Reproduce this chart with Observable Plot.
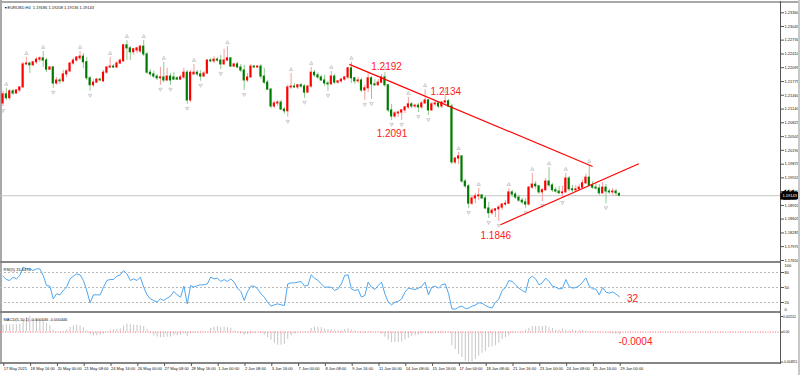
<!DOCTYPE html>
<html><head><meta charset="utf-8">
<script src="https://cdn.jsdelivr.net/npm/d3@7"></script>
<script src="https://cdn.jsdelivr.net/npm/@observablehq/plot@0.6"></script>
<style>
html,body{margin:0;padding:0;background:#fff;}
#chart{position:relative;width:800px;height:375px;overflow:hidden;background:#fff;font-family:"Liberation Sans",Arial,sans-serif;}
#chart svg{position:absolute;left:0;top:0;}
.ln{position:absolute;}
</style></head><body>
<div id="chart">
<div class="ln" style="left:0;top:1px;width:798px;height:2px;background:#a8a8a8"></div>
<div class="ln" style="left:0;top:0;width:2px;height:364px;background:#a8a8a8"></div>
<div class="ln" style="left:0;top:261px;width:781px;height:2px;background:#858585"></div>
<div class="ln" style="left:0;top:311px;width:781px;height:2px;background:#858585"></div>
<div class="ln" style="left:0;top:362px;width:781px;height:2px;background:#858585"></div>
<div class="ln" style="left:780px;top:1px;width:1px;height:363px;background:#555"></div>
</div>
<script>
// ---- EURUSD H4 candles (bar index 0 = 17 May 2021 08:00) ----
const open = [1.2127,1.2148,1.2139,1.2155,1.2150,1.2157,1.2164,1.2217,1.2219,1.2215,
1.2222,1.2228,1.2231,1.2226,1.2205,1.2210,1.2173,1.2180,1.2178,1.2194,
1.2201,1.2219,1.2226,1.2231,1.2235,1.2222,1.2185,1.2169,1.2175,1.2182,
1.2178,1.2198,1.2210,1.2212,1.2210,1.2219,1.2224,1.2261,1.2254,1.2245,
1.2249,1.2247,1.2258,1.2240,1.2198,1.2194,1.2189,1.2185,1.2187,1.2180,
1.2189,1.2187,1.2185,1.2182,1.2187,1.2198,1.2134,1.2194,1.2198,1.2194,
1.2189,1.2196,1.2226,1.2224,1.2228,1.2226,1.2217,1.2226,1.2231,1.2212,
1.2217,1.2210,1.2203,1.2180,1.2187,1.2212,1.2210,1.2212,1.2189,1.2175,
1.2159,1.2120,1.2127,1.2129,1.2113,1.2109,1.2164,1.2166,1.2164,1.2169,
1.2166,1.2152,1.2166,1.2198,1.2192,1.2187,1.2180,1.2173,1.2171,1.2189,
1.2175,1.2178,1.2182,1.2187,1.2208,1.2185,1.2178,1.2180,1.2157,1.2162,
1.2185,1.2171,1.2169,1.2175,1.2187,1.2169,1.2111,1.2097,1.2104,1.2106,
1.2111,1.2118,1.2125,1.2120,1.2122,1.2118,1.2127,1.2134,1.2111,1.2125,
1.2127,1.2120,1.2129,1.2132,1.2120,1.1991,1.2000,1.2005,1.1947,1.1936,
1.1896,1.1908,1.1913,1.1915,1.1908,1.1885,1.1874,1.1880,1.1883,1.1887,
1.1894,1.1896,1.1922,1.1917,1.1910,1.1903,1.1899,1.1894,1.1933,1.1940,
1.1936,1.1922,1.1927,1.1947,1.1938,1.1927,1.1924,1.1920,1.1922,1.1954,
1.1929,1.1927,1.1929,1.1933,1.1943,1.1956,1.1938,1.1933,1.1931,1.1920,
1.1933,1.1924,1.1922,1.1924,1.19186];
const high = [1.2155,1.2162,1.2159,1.2159,1.2159,1.2166,1.2222,1.2233,1.2222,1.2224,
1.2233,1.2235,1.2247,1.2231,1.2212,1.2212,1.2187,1.2185,1.2203,1.2205,
1.2222,1.2231,1.2235,1.2247,1.2242,1.2233,1.2189,1.2182,1.2185,1.2185,
1.2203,1.2212,1.2233,1.2217,1.2224,1.2228,1.2263,1.2272,1.2258,1.2254,
1.2256,1.2261,1.2272,1.2245,1.2205,1.2201,1.2194,1.2210,1.2222,1.2208,
1.2196,1.2198,1.2189,1.2192,1.2208,1.2203,1.2203,1.2217,1.2203,1.2203,
1.2201,1.2228,1.2231,1.2235,1.2233,1.2238,1.2252,1.2258,1.2233,1.2219,
1.2222,1.2217,1.2215,1.2196,1.2217,1.2215,1.2215,1.2217,1.2208,1.2180,
1.2162,1.2132,1.2134,1.2134,1.2118,1.2169,1.2196,1.2173,1.2171,1.2173,
1.2171,1.2169,1.2210,1.2203,1.2198,1.2192,1.2192,1.2178,1.2201,1.2194,
1.2180,1.2185,1.2189,1.2210,1.2222,1.2187,1.2187,1.2185,1.2169,1.2196,
1.2189,1.2182,1.2182,1.2194,1.2198,1.2171,1.2125,1.2109,1.2109,1.2113,
1.2120,1.2141,1.2129,1.2125,1.2127,1.2132,1.2159,1.2136,1.2129,1.2132,
1.2129,1.2132,1.2145,1.2136,1.2125,1.2003,1.2014,1.2007,1.1952,1.1940,
1.1913,1.1920,1.1931,1.1917,1.1913,1.1899,1.1885,1.1885,1.1892,1.1896,
1.1903,1.1931,1.1927,1.1922,1.1915,1.1908,1.1908,1.1936,1.1966,1.1947,
1.1938,1.1931,1.1954,1.1979,1.1943,1.1933,1.1936,1.1936,1.1966,1.1959,
1.1938,1.1938,1.1940,1.1950,1.1963,1.1984,1.1947,1.1943,1.1940,1.1945,
1.1940,1.1929,1.1931,1.1929,1.19208];
const low = [1.2120,1.2134,1.2134,1.2145,1.2148,1.2152,1.2162,1.2215,1.2196,1.2212,
1.2217,1.2222,1.2210,1.2198,1.2203,1.2162,1.2169,1.2171,1.2175,1.2187,
1.2198,1.2215,1.2222,1.2226,1.2208,1.2180,1.2155,1.2164,1.2173,1.2178,
1.2175,1.2194,1.2208,1.2208,1.2208,1.2217,1.2222,1.2226,1.2226,1.2238,
1.2242,1.2242,1.2235,1.2194,1.2189,1.2185,1.2180,1.2169,1.2175,1.2178,
1.2169,1.2180,1.2180,1.2180,1.2182,1.2125,1.2129,1.2192,1.2189,1.2178,
1.2187,1.2194,1.2222,1.2219,1.2222,1.2205,1.2215,1.2224,1.2210,1.2210,
1.2208,1.2198,1.2157,1.2175,1.2185,1.2208,1.2208,1.2182,1.2171,1.2157,
1.2115,1.2115,1.2120,1.2111,1.2102,1.2095,1.2159,1.2162,1.2159,1.2162,
1.2139,1.2150,1.2162,1.2187,1.2182,1.2178,1.2166,1.2155,1.2169,1.2171,
1.2171,1.2173,1.2178,1.2182,1.2173,1.2171,1.2173,1.2152,1.2134,1.2152,
1.2136,1.2166,1.2166,1.2173,1.2164,1.2106,1.2088,1.2092,1.2095,1.2088,
1.2104,1.2113,1.2115,1.2115,1.2106,1.2113,1.2125,1.2099,1.2109,1.2120,
1.2115,1.2115,1.2125,1.2118,1.1986,1.1986,1.1986,1.1943,1.1931,1.1885,
1.1892,1.1896,1.1903,1.1906,1.1883,1.1862,1.1869,1.1864,1.1855,1.1880,
1.1890,1.1894,1.1910,1.1906,1.1899,1.1894,1.1885,1.1890,1.1929,1.1929,
1.1917,1.1901,1.1924,1.1933,1.1922,1.1920,1.1917,1.1908,1.1920,1.1924,
1.1922,1.1924,1.1927,1.1931,1.1940,1.1936,1.1929,1.1927,1.1915,1.1917,
1.1896,1.1917,1.1915,1.1913,1.19136];
const close = [1.2148,1.2139,1.2155,1.2150,1.2157,1.2164,1.2217,1.2219,1.2215,1.2222,
1.2228,1.2231,1.2226,1.2205,1.2210,1.2173,1.2180,1.2178,1.2194,1.2201,
1.2219,1.2226,1.2233,1.2235,1.2222,1.2185,1.2169,1.2175,1.2182,1.2180,
1.2198,1.2210,1.2212,1.2210,1.2219,1.2226,1.2261,1.2254,1.2245,1.2252,
1.2254,1.2258,1.2240,1.2198,1.2194,1.2189,1.2185,1.2187,1.2180,1.2189,
1.2180,1.2182,1.2182,1.2187,1.2198,1.2134,1.2198,1.2198,1.2194,1.2189,
1.2196,1.2226,1.2224,1.2228,1.2226,1.2217,1.2226,1.2231,1.2212,1.2217,
1.2210,1.2203,1.2180,1.2187,1.2212,1.2210,1.2212,1.2189,1.2175,1.2159,
1.2120,1.2127,1.2129,1.2113,1.2109,1.2164,1.2166,1.2164,1.2169,1.2166,
1.2152,1.2166,1.2198,1.2192,1.2187,1.2180,1.2173,1.2171,1.2189,1.2175,
1.2178,1.2182,1.2187,1.2208,1.2185,1.2178,1.2180,1.2157,1.2162,1.2185,
1.2171,1.2169,1.2175,1.2187,1.2169,1.2111,1.2097,1.2104,1.2106,1.2111,
1.2118,1.2125,1.2120,1.2122,1.2118,1.2127,1.2134,1.2111,1.2125,1.2127,
1.2120,1.2129,1.2132,1.2120,1.1991,1.2000,1.2005,1.1947,1.1936,1.1896,
1.1908,1.1913,1.1915,1.1908,1.1885,1.1874,1.1880,1.1883,1.1887,1.1894,
1.1896,1.1922,1.1917,1.1910,1.1903,1.1899,1.1894,1.1933,1.1940,1.1936,
1.1922,1.1927,1.1947,1.1938,1.1927,1.1924,1.1920,1.1922,1.1954,1.1929,
1.1927,1.1929,1.1933,1.1943,1.1956,1.1938,1.1933,1.1931,1.1920,1.1933,
1.1924,1.1922,1.1924,1.1920,1.19143];

// ---- RSI(5) ----
const rsi = [72.7,66,64,70.7,67.3,74,90.7,87.3,87.3,84,
87.3,87.3,74,54,52.7,27.3,37.3,35.3,44,50.7,
67.3,72.7,77.3,75.3,64,44,19.3,35.3,35.3,35.3,
50.7,64,66,66,72.7,75.3,84,77.3,64,67.3,
64,70.7,50.7,35.3,27.3,24,20.7,27.3,24,28.7,
32.7,42,35.3,30.7,52.7,17.3,54,50.7,54,55.3,
55.3,57.3,70.7,67.3,68.7,62,66,62,67.3,60.7,
48.7,42,24,42,52.7,52.7,47.3,37.3,30.7,20.7,
12.7,15.3,17.3,15.3,14,57.3,59.3,59.3,60.7,62,
52.7,54,75.3,68.7,64,57.3,50.7,50.7,50.7,44,
47.3,57.3,74,75.3,47.3,44,46,30.7,34,60.7,
50.7,46,54,60.7,37.3,20.7,15.3,20.7,22,27.3,
40.7,48.7,47.3,46,48.7,52.7,60.7,35.3,50.7,52.7,
48.7,55.3,57.3,38,7.3,6.7,10.7,12.7,8,8.7,
12.7,14.7,19.3,18.7,14,10.7,9.3,20.7,26.7,44,
50,64,62,55.3,48.7,44,40,67.3,72.7,67.3,
55.3,59.3,68.7,62,52.7,50.7,47.3,48,66,52,
48.7,50,53.3,60.7,69.3,52.7,47.3,46.7,35.3,50,
40.7,38.7,41.3,36.7,31.6];

// ---- MACD(5,10,1) histogram ----
const macd = [0.0011,0.0012,0.0012,0.0012,0.0012,0.0013,0.0019,0.0023,0.002511,0.0020,
0.0021,0.0020,0.0017,0.0014,0.0010,0.0003,0.0001,-0.0001,0.0001,0.0003,
0.0008,0.0010,0.0011,0.0010,0.0007,0.0002,-0.0004,-0.0006,-0.0006,-0.0005,
-0.0003,0.0001,0.0003,0.0004,0.0004,0.0005,0.0010,0.0013,0.0012,0.0011,
0.0011,0.0010,0.0009,0.0004,-0.0002,-0.0006,-0.0008,-0.0009,-0.0009,-0.0008,
-0.0008,-0.0006,-0.0006,-0.0005,-0.0003,-0.0007,-0.0003,-0.0002,-0.0001,-0.0001,
-0.0001,0.0001,0.0006,0.0008,0.0009,0.0008,0.0008,0.0007,0.0006,0.0002,
-0.0001,-0.0003,-0.0005,-0.0004,-0.0003,-0.0002,-0.0001,-0.0002,-0.0005,-0.0009,
-0.0013,-0.0018,-0.0021,-0.0021,-0.0020,-0.0012,-0.0006,-0.0003,-0.0001,0.0000,
-0.0001,0.0001,0.0006,0.0008,0.0008,0.0007,0.0005,0.0004,0.0004,0.0003,
0.0002,0.0002,0.0004,0.0005,0.0003,0.0002,0.0001,-0.0001,-0.0002,0.0001,
0.0001,0.0000,0.0001,-0.0003,-0.0008,-0.0013,-0.0017,-0.0017,-0.0017,-0.0016,
-0.0013,-0.0010,-0.0007,-0.0006,-0.0005,-0.0003,-0.0002,-0.0003,-0.0003,-0.0002,
-0.0002,-0.0002,-0.0002,-0.0001,-0.0022,-0.0028,-0.0036,-0.0041,-0.0047,-0.004815,
-0.0048,-0.0044,-0.0039,-0.0034,-0.0031,-0.0025,-0.0024,-0.0022,-0.0018,-0.0012,
-0.0009,-0.0006,-0.0002,-0.0001,0.0000,0.0001,0.0003,0.0006,0.0009,0.0009,
0.0009,0.0009,0.0010,0.0007,0.0006,0.0003,0.0003,0.0005,0.0003,0.0002,
0.0003,0.0002,0.0002,0.0003,0.0002,0.0001,0.0001,0.0000,-0.0001,0.0000,
-0.0001,-0.0002,-0.0003,-0.00035,-0.000446];

// ---- fractal bars ----
const fractalUp = [1,7,12,23,32,37,42,48,57,67,86,92,98,104,114,121,126,132,136,142,151,158,163,168,175];
const fractalDown = [0,15,26,47,50,55,59,65,72,85,90,97,108,110,116,119,124,127,139,145,148,156,161,167,180];

// ---- trend lines (bar, price) ----
const trendX1 = [103.4, 148.5];
const trendY1 = [1.2217, 1.18474];
const trendX2 = [176.0, 189.8];
const trendY2 = [1.19818, 1.19880];

// ---- annotations ----
const noteText = ["1.2192","1.2134","1.2091","1.1846"];
const noteBar = [114.5, 132.2, 116.1, 147.1];
const notePrice = [1.2211, 1.2154, 1.2058, 1.1823];
const rsiNoteText = ["32"], rsiNoteBar = [187.9], rsiNoteValue = [28];
const macdNoteText = ["-0.0004"], macdNoteBar = [188.8], macdNoteValue = [-0.0015];

// ---- axes ----
const priceTicks = [1.23360,1.23045,1.22730,1.22410,1.22095,1.21775,1.21460,1.21140,1.20825,1.20505,1.20190,1.19870,1.19555,1.19240,1.18920,1.18605,1.18285,1.17970,1.17650];
const rsiLevels = [80, 50, 20];
const macdTicks = [0.002511, 0, -0.004815];
const dateTicks = [0,8,16,24,32,40,48,56,64,72,80,88,96,104,112,120,128,136,144,152,160,168,176,184];
const dateLabels = ["17 May 2021","18 May 16:00","20 May 00:00","21 May 08:00","24 May 16:00","26 May 00:00","27 May 08:00","28 May 16:00","1 Jun 00:00","2 Jun 08:00","3 Jun 16:00","7 Jun 00:00","8 Jun 08:00","9 Jun 16:00","11 Jun 00:00","14 Jun 08:00","15 Jun 16:00","17 Jun 00:00","18 Jun 08:00","21 Jun 16:00","23 Jun 00:00","24 Jun 08:00","25 Jun 16:00","29 Jun 00:00"];
const titleText = "EURUSD,H4  1.19186 1.19208 1.19136 1.19143";
const rsiTitle = "RSI(5) 31.6474";
const macdTitle = "MACD(5,10,1) -0.000446 -0.000446";

// ---- build ----
const bars = open.map((o, i) => ({i, o, h: high[i], l: low[i], c: close[i]}));
const isUp = d => d.c >= d.o;
const trends = trendX1.map((x, k) => ({x1: x, y1: trendY1[k], x2: trendX2[k], y2: trendY2[k]}));
const notes = noteText.map((t, k) => ({t, x: noteBar[k], y: notePrice[k]}));
const rsiNotes = rsiNoteText.map((t, k) => ({t, x: rsiNoteBar[k], y: rsiNoteValue[k]}));
const macdNotes = macdNoteText.map((t, k) => ({t, x: macdNoteBar[k], y: macdNoteValue[k]}));
const RED = "#ff2020";
const FONT = "'Liberation Sans', Arial, sans-serif";

const base = {
  width: 800, height: 375,
  marginLeft: 0, marginRight: 20, marginTop: 0, marginBottom: 12,
  x: {domain: [0, 184], range: [2.5, 618.9], axis: null},
  color: {type: "identity"},
  style: {background: "transparent", fontFamily: FONT, overflow: "visible"}
};

const mainPlot = Plot.plot({
  ...base,
  y: {domain: [1.17650, 1.23360], range: [260, 12.3], axis: null},
  marks: [
    Plot.ruleY([close[close.length - 1]], {stroke: "#c4c4c4", strokeWidth: 1}),
    Plot.ruleX(bars, {x: "i", y1: "l", y2: "h", stroke: d => isUp(d) ? "#f3a0a0" : "#8fcb8f", strokeWidth: 1}),
    Plot.rect(bars, {x1: d => d.i - 0.32, x2: d => d.i + 0.32, y1: "o", y2: "c",
      fill: d => isUp(d) ? "#ff0000" : "#007a00", insetTop: -0.5, insetBottom: -0.5}),
    Plot.dot(fractalUp, {x: d => d, y: d => high[d], dy: -4, symbol: "triangle", r: 1.3,
      fill: "#f2f2f2", stroke: "#a8a8a8", strokeWidth: 0.5}),
    Plot.dot(fractalDown, {x: d => d, y: d => low[d], dy: 4, rotate: 180, symbol: "triangle", r: 1.3,
      fill: "#f2f2f2", stroke: "#a8a8a8", strokeWidth: 0.5}),
    Plot.link(trends, {x1: "x1", y1: "y1", x2: "x2", y2: "y2", stroke: "#ff0000", strokeWidth: 1.2}),
    Plot.text(notes, {x: "x", y: "y", text: "t", fill: RED, fontSize: 10}),
    Plot.axisY({anchor: "right", ticks: priceTicks, tickFormat: d3.format(".5f"), tickSize: 3, tickPadding: 1,
      fontSize: 4, label: null, stroke: "#555", fill: "#111"}),
    Plot.text([close[close.length - 1]], {y: d => d, frameAnchor: "right", text: d => d3.format(".5f")(d),
      textAnchor: "start", dx: 2, fill: "white", stroke: "black", strokeWidth: 5, paintOrder: "stroke",
      strokeLinejoin: "miter", fontSize: 4}),
    Plot.text(["▼"], {frameAnchor: "top-left", dx: 3.5, dy: 5.5, fontSize: 3.5, fill: "#111"}),
    Plot.text([titleText], {frameAnchor: "top-left", dx: 7, dy: 5.5, textAnchor: "start", fontSize: 4, fill: "#111"})
  ]
});

const rsiPlot = Plot.plot({
  ...base,
  y: {domain: [0, 100], range: [312, 262], axis: null},
  marks: [
    Plot.ruleY(rsiLevels, {stroke: "#b8b8b8", strokeDasharray: "2,2"}),
    Plot.line(rsi, {x: (d, i) => i, y: d => d, stroke: "#4ea6f0", strokeWidth: 1}),
    Plot.axisY({anchor: "right", ticks: rsiLevels, tickSize: 3, tickPadding: 1, fontSize: 4, label: null, stroke: "#555", fill: "#111"}),
    Plot.text([100], {y: d => d, frameAnchor: "right", text: d => String(d), textAnchor: "start", dx: 4, dy: 3, fontSize: 4, fill: "#111"}),
    Plot.text([0], {y: d => d, frameAnchor: "right", text: d => String(d), textAnchor: "start", dx: 4, dy: -3, fontSize: 4, fill: "#111"}),
    Plot.text([rsiTitle], {frameAnchor: "top-left", dx: 3, dy: 268, textAnchor: "start", fontSize: 4, fill: "#111"}),
    Plot.text(rsiNotes, {x: "x", y: "y", text: "t", fill: RED, fontSize: 10})
  ]
});

const macdPlot = Plot.plot({
  ...base,
  y: {domain: [-0.004815, 0.002511], range: [361.5, 316], axis: null},
  marks: [
    Plot.ruleX(macd, {x: (d, i) => i, y1: 0, y2: d => d, stroke: "#c6c6c6", strokeWidth: 1}),
    Plot.ruleY([0], {stroke: "#ff6a6a", strokeDasharray: "1,1.5"}),
    Plot.axisY({anchor: "right", ticks: macdTicks, tickFormat: d => d === 0 ? "0.00" : d.toFixed(6),
      tickSize: 2, tickPadding: 0.5, fontSize: 3.2, label: null, stroke: "#555", fill: "#111"}),
    Plot.axisX({anchor: "bottom", ticks: dateTicks, tickFormat: d => dateLabels[dateTicks.indexOf(d)],
      tickSize: 3, tickPadding: 0.5, textAnchor: "start", dx: 0.8, fontSize: 4, label: null, stroke: "#555", fill: "#111"}),
    Plot.text([macdTitle], {frameAnchor: "top-left", dx: 3, dy: 318, textAnchor: "start", fontSize: 4, fill: "#111"}),
    Plot.text(macdNotes, {x: "x", y: "y", text: "t", fill: RED, fontSize: 10})
  ]
});

const host = document.getElementById("chart");
host.appendChild(mainPlot);
host.appendChild(rsiPlot);
host.appendChild(macdPlot);
const stripe = document.createElement("div");
stripe.className = "ln";
stripe.style.cssText = "left:798px;top:0;width:2px;height:375px;background:#c8c8c8";
host.appendChild(stripe);
</script>
</body></html>
